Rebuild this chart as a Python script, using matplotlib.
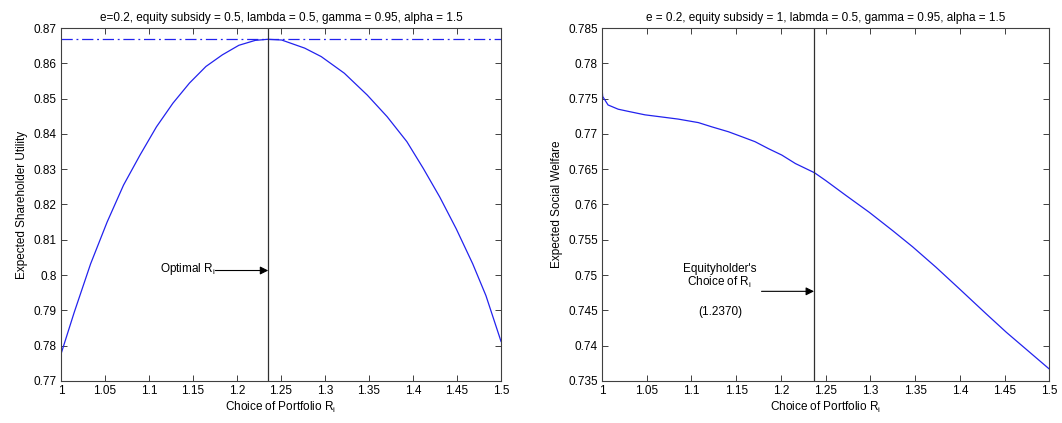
import numpy as np
import matplotlib.pyplot as plt
from matplotlib.ticker import FuncFormatter

plt.rcParams['font.family'] = ['Liberation Sans', 'DejaVu Sans']
plt.rcParams['mathtext.default'] = 'regular'
plt.rcParams['font.size'] = 8.5

# --- Data ---
r_left = [1.0, 1.015, 1.0337, 1.0524, 1.0711, 1.0898, 1.1085, 1.1272, 1.146, 1.1647,
          1.1834, 1.2021, 1.2208, 1.235, 1.2507, 1.2769, 1.2957, 1.3219, 1.348, 1.3705,
          1.393, 1.4117, 1.4304, 1.4491, 1.4678, 1.4828, 1.5]
util_left = [0.7776, 0.7894, 0.8032, 0.8150, 0.8255, 0.8340, 0.8420, 0.8487, 0.8544, 0.8591,
             0.8624, 0.8651, 0.8665, 0.8668, 0.8666, 0.8643, 0.8619, 0.8572, 0.8510, 0.8449,
             0.8378, 0.8302, 0.8221, 0.8131, 0.8032, 0.7942, 0.7812]
opt_left = 1.2355

r_right = [1.0, 1.0007, 1.0067, 1.018, 1.029, 1.048, 1.0666, 1.085, 1.1077, 1.1227, 1.1414,
           1.1563, 1.171, 1.1862, 1.201, 1.2162, 1.2375, 1.25, 1.2725, 1.2987, 1.3249,
           1.3473, 1.3735, 1.4, 1.4296, 1.452, 1.5]
welfare_right = [0.7765, 0.7753, 0.7741, 0.7735, 0.7732, 0.7727, 0.7724, 0.7721, 0.7716, 0.7710, 0.7703,
                 0.7696, 0.7689, 0.7679, 0.7670, 0.7658, 0.7645, 0.7634, 0.7613, 0.7589, 0.7563,
                 0.7540, 0.7511, 0.7480, 0.7445, 0.7419, 0.7367]
opt_right = 1.2370

x_ticks = np.arange(1.0, 1.5001, 0.05)
left_yticks = np.arange(0.77, 0.8701, 0.01)
right_yticks = np.arange(0.735, 0.7851, 0.005)

spine_col = '#404040'
curve_col = '#2222ee'
fmt = FuncFormatter(lambda v, p: '%g' % round(v, 4))


def style_axes(ax):
    for s in ax.spines.values():
        s.set_color(spine_col)
        s.set_linewidth(0.8)
    ax.tick_params(direction='in', length=4, width=0.7, color=spine_col,
                   top=True, right=True, labelsize=8.5, pad=3)
    ax.xaxis.set_major_formatter(fmt)
    ax.yaxis.set_major_formatter(fmt)


fig = plt.figure(figsize=(10.62, 4.23), dpi=100)

# left panel
ax1 = fig.add_axes([0.0574, 0.0993, 0.4144, 0.8345])
ax1.plot(r_left, util_left, color=curve_col, lw=0.9)
ax1.axhline(max(util_left), color=curve_col, lw=0.9, linestyle=(0, (9, 3, 1.5, 3)))
ax1.axvline(opt_left, color='#303030', lw=0.9)
ax1.set_xlim(1.0, 1.5)
ax1.set_ylim(0.77, 0.87)
ax1.set_xticks(x_ticks)
ax1.set_yticks(left_yticks)
style_axes(ax1)
ax1.set_title('e=0.2, equity subsidy = 0.5, lambda = 0.5, gamma = 0.95, alpha = 1.5',
              fontsize=8.5, pad=5)
ax1.set_xlabel('Choice of Portfolio R$_i$', labelpad=2)
ax1.set_ylabel('Expected Shareholder Utility', labelpad=4)
ax1.annotate('', xy=(opt_left, 0.8013), xytext=(1.1754, 0.8013),
             arrowprops=dict(arrowstyle='-|>', color='black', lw=0.8,
                             mutation_scale=12, shrinkA=0, shrinkB=0))
ax1.text(1.1754, 0.8018, 'Optimal R$_i$', ha='right', va='center', fontsize=8.5)

# right panel
ax2 = fig.add_axes([0.5669, 0.0993, 0.4211, 0.8345])
ax2.plot(r_right, welfare_right, color=curve_col, lw=0.9)
ax2.axvline(opt_right, color='#303030', lw=0.9)
ax2.set_xlim(1.0, 1.5)
ax2.set_ylim(0.735, 0.785)
ax2.set_xticks(x_ticks)
ax2.set_yticks(right_yticks)
style_axes(ax2)
ax2.set_title('e = 0.2, equity subsidy = 1, labmda = 0.5, gamma = 0.95, alpha = 1.5',
              fontsize=8.5, pad=5)
ax2.set_xlabel('Choice of Portfolio R$_i$', labelpad=2)
ax2.set_ylabel('Expected Social Welfare', labelpad=4)
ax2.annotate('', xy=(opt_right, 0.7477), xytext=(1.1783, 0.7477),
             arrowprops=dict(arrowstyle='-|>', color='black', lw=0.8,
                             mutation_scale=12, shrinkA=0, shrinkB=0))
ax2.text(1.1317, 0.7498, "Equityholder's\nChoice of R$_i$", ha='center', va='center',
         fontsize=8.5, linespacing=1.0, multialignment='center')
ax2.text(1.1317, 0.7448, '(1.2370)', ha='center', va='center', fontsize=8.5)

fig.savefig('out.png', dpi=100, facecolor='white')
